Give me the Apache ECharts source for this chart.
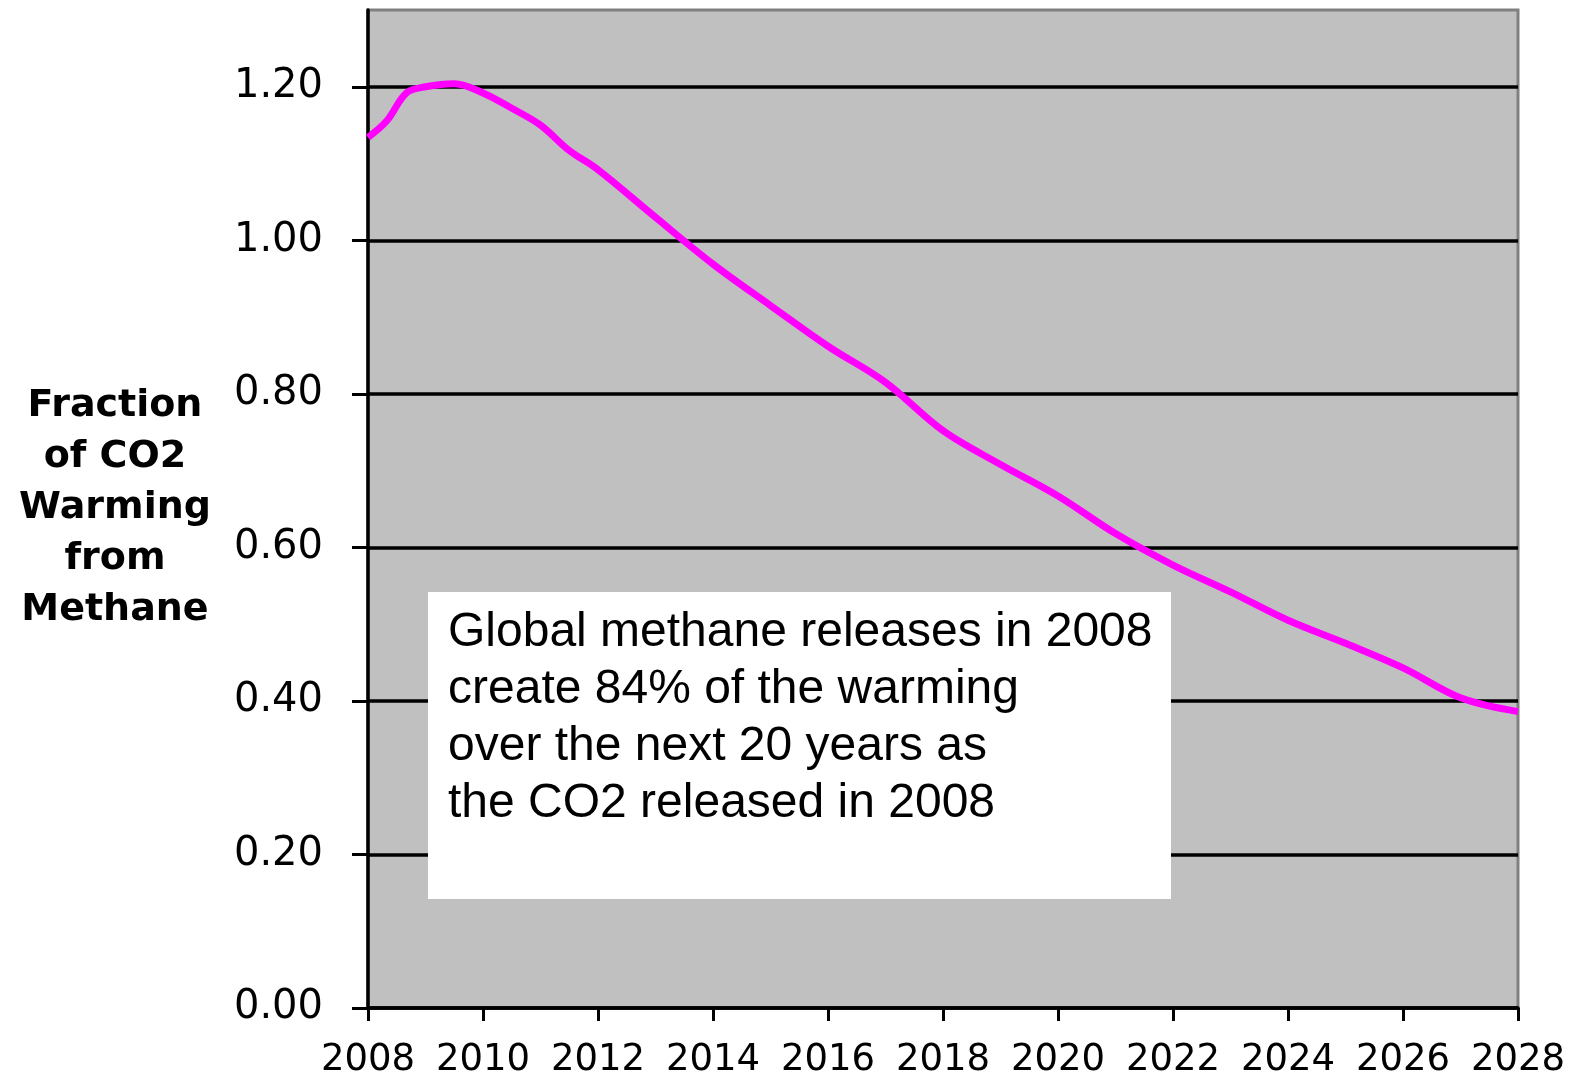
<!DOCTYPE html>
<html>
<head>
<meta charset="utf-8">
<script src="https://cdn.jsdelivr.net/npm/echarts@6/dist/echarts.min.js"></script>
<style>
  html, body { margin: 0; padding: 0; background: #ffffff; }
  #chart { width: 1572px; height: 1079px; }
</style>
</head>
<body>
<div id="chart"></div>
<script>
// Year of the reading and the warming from methane as a fraction of CO2 warming
const years = [2008, 2008.32, 2008.67, 2009, 2009.5, 2010, 2010.5, 2011, 2011.5, 2012,
  2013, 2014, 2015, 2016, 2017, 2018, 2019, 2020, 2021, 2022,
  2023, 2024, 2025, 2026, 2027, 2028];
const fraction = [1.134, 1.155, 1.192, 1.200, 1.204, 1.192, 1.172, 1.150, 1.117, 1.092,
  1.030, 0.969, 0.915, 0.862, 0.815, 0.752, 0.708, 0.667, 0.618, 0.577,
  0.542, 0.505, 0.475, 0.443, 0.404, 0.386];

const yTicks = { min: 0, max: 1.3, step: 0.2 };
const xTicks = { min: 2008, max: 2028, step: 2 };

const axisTitle = ['Fraction', 'of CO2', 'Warming', 'from', 'Methane'];
const noteLines = [
  'Global methane releases in 2008',
  'create 84% of the warming',
  'over the next 20 years as',
  'the CO2 released in 2008'
];

const points = years.map((y, i) => [y, fraction[i]]);

const chart = echarts.init(document.getElementById('chart'), null, { renderer: 'canvas' });

chart.setOption({
  animation: false,
  backgroundColor: '#ffffff',
  grid: {
    left: 368, top: 10, right: 54, bottom: 71,
    show: true,
    backgroundColor: '#c0c0c0',
    borderColor: '#808080',
    borderWidth: 3
  },
  xAxis: {
    type: 'value',
    min: xTicks.min, max: xTicks.max, interval: xTicks.step,
    axisLine: { show: true, onZero: false, lineStyle: { color: '#000', width: 3.5 } },
    axisTick: { show: true, length: 13, lineStyle: { color: '#000', width: 3 } },
    axisLabel: {
      margin: 34,
      color: '#000',
      fontFamily: 'DejaVu Sans',
      fontSize: 37,
      formatter: v => String(v)
    },
    splitLine: { show: false }
  },
  yAxis: {
    type: 'value',
    min: yTicks.min, max: yTicks.max, interval: yTicks.step,
    axisLine: { show: true, lineStyle: { color: '#000', width: 3.5 } },
    axisTick: { show: true, length: 16, lineStyle: { color: '#000', width: 3 } },
    axisLabel: {
      margin: 45,
      color: '#000',
      fontFamily: 'DejaVu Sans',
      fontSize: 40,
      showMaxLabel: false,
      formatter: v => v.toFixed(2)
    },
    splitLine: { show: true, showMaxLine: false, lineStyle: { color: '#000', width: 3.5 } }
  },
  series: [{
    type: 'line',
    data: points,
    symbol: 'none',
    smooth: 0.35,
    lineStyle: { color: '#ff00ff', width: 7 },
    z: 3
  }],
  graphic: [
    {
      type: 'text',
      z: 10,
      x: 115, y: 381,
      style: {
        text: axisTitle.join('\n'),
        font: 'bold 38px "DejaVu Sans"',
        lineHeight: 51,
        fill: '#000',
        textAlign: 'center',
        textVerticalAlign: 'top'
      }
    },
    {
      type: 'rect',
      z: 10,
      shape: { x: 428, y: 592, width: 743, height: 307 },
      style: { fill: '#ffffff' }
    },
    {
      type: 'text',
      z: 11,
      x: 448, y: 604,
      style: {
        text: noteLines.join('\n'),
        font: '48px "Liberation Sans", Arial, sans-serif',
        lineHeight: 57,
        fill: '#000',
        textAlign: 'left',
        textVerticalAlign: 'top'
      }
    }
  ]
});
</script>
</body>
</html>
